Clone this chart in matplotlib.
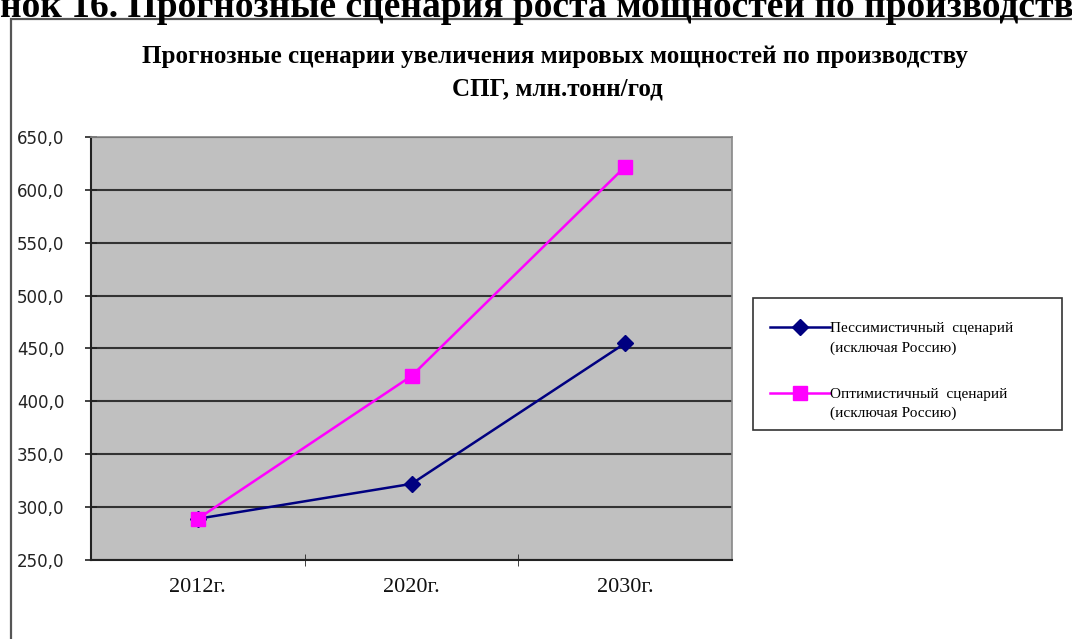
import matplotlib
matplotlib.use("Agg")
import matplotlib.pyplot as plt
from matplotlib.patches import Rectangle
from matplotlib.legend_handler import HandlerLine2D

# --- data -------------------------------------------------------------
years = ["2012г.", "2020г.", "2030г."]
pessimistic = [289.0, 322.0, 455.0]
optimistic = [289.0, 424.0, 622.0]
series_labels = [
    "Пессимистичный  сценарий\n(исключая Россию)",
    "Оптимистичный  сценарий\n(исключая Россию)",
]
y_ticks = [250, 300, 350, 400, 450, 500, 550, 600, 650]

title = "Прогнозные сценарии увеличения мировых мощностей по производству\nСПГ, млн.тонн/год"
caption = "нок 16. Прогнозные сценария роста мощностей по производству"

SERIF = ["Liberation Serif", "DejaVu Serif"]
SANS = ["DejaVu Sans"]

W, H = 1072, 639
fig = plt.figure(figsize=(W / 100, H / 100), dpi=100)
fig.patch.set_facecolor("white")


def fx(px):
    return px / W


def fy(py):
    return 1 - py / H


# document caption above the chart frame (runs past the page edges)
fig.text(fx(0), fy(17), caption, family=SERIF, fontweight="bold",
         fontsize=27, ha="left", va="baseline", color="black")

# chart frame
fig.add_artist(Rectangle((fx(11), fy(700)), fx(1100), fy(19) - fy(700),
                         transform=fig.transFigure, facecolor="white",
                         edgecolor="#555555", linewidth=1.6, zorder=0))

# chart title
t1, t2 = title.split("\n")
fig.text(fx(555), fy(56), t1, family=SERIF, fontweight="bold",
         fontsize=18, ha="center", va="center")
fig.text(fx(557), fy(89), t2, family=SERIF, fontweight="bold",
         fontsize=18, ha="center", va="center")

ax = fig.add_axes([fx(91), fy(560), fx(732) - fx(91), fy(137) - fy(560)])
ax.set_facecolor("#C0C0C0")

x = list(range(len(years)))
l1, = ax.plot(x, pessimistic, color="#000080", linewidth=1.8, marker="D",
              markersize=8, markerfacecolor="#000080", markeredgecolor="#000080",
              zorder=3)
l2, = ax.plot(x, optimistic, color="#FF00FF", linewidth=1.8, marker="s",
              markersize=10, markerfacecolor="#FF00FF", markeredgecolor="#FF00FF",
              zorder=3)

ax.set_xlim(-0.5, len(years) - 0.5)
ax.set_ylim(250, 650)
ax.set_yticks(y_ticks)
ax.set_yticklabels([f"{v:.1f}".replace(".", ",") for v in y_ticks],
                   family=SANS, fontsize=12, color="#222222")
ax.yaxis.grid(True, color="#333333", linewidth=1.5)
ax.set_axisbelow(True)

ax.set_xticks(x)
ax.set_xticklabels(years, family=SERIF, fontsize=16, color="#111111")
ax.set_xticks([0.5, 1.5], minor=True)
ax.tick_params(axis="x", which="major", length=0, pad=13)
ax.tick_params(axis="x", which="minor", length=8, direction="inout", color="#222222")
ax.tick_params(axis="y", length=9, direction="inout", color="#222222", pad=14.5, width=1.2)

for side in ("left", "bottom"):
    ax.spines[side].set_color("#222222")
    ax.spines[side].set_linewidth(1.5)
for side in ("top", "right"):
    ax.spines[side].set_color("#888888")
    ax.spines[side].set_linewidth(1.2)


class FirstLineHandler(HandlerLine2D):
    """Place the legend key level with the first line of a two-line label."""

    def create_artists(self, legend, orig_handle, xdescent, ydescent,
                       width, height, fontsize, trans):
        arts = super().create_artists(legend, orig_handle, xdescent, ydescent,
                                      width, height, fontsize, trans)
        for a in arts:
            a.set_ydata([v + 0.7 * fontsize for v in a.get_ydata()])
        return arts


# legend box drawn as a plain rectangle, entries placed inside it
fig.add_artist(Rectangle((fx(753), fy(430)), fx(1062) - fx(753), fy(298) - fy(430),
                         transform=fig.transFigure, facecolor="white",
                         edgecolor="#333333", linewidth=1.2, zorder=4))
leg = fig.legend([l1, l2], series_labels, loc="upper left",
                 bbox_to_anchor=(fx(770), fy(322)), bbox_transform=fig.transFigure,
                 prop={"family": SERIF, "size": 11}, frameon=False,
                 handlelength=3.9, handletextpad=0.05,
                 labelspacing=2.15, borderpad=0, borderaxespad=0,
                 handler_map={l1: FirstLineHandler(numpoints=1),
                              l2: FirstLineHandler(numpoints=1)})
leg.set_zorder(5)
for t in leg.get_texts():
    t.set_linespacing(1.6)

fig.savefig("out.png", dpi=100)
